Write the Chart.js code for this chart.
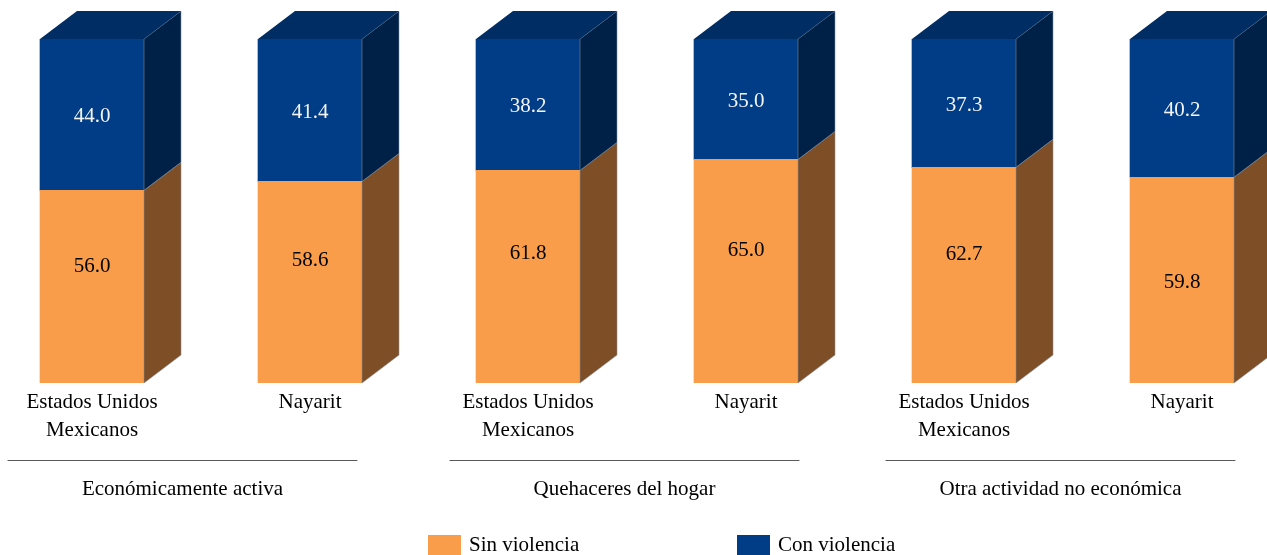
<!DOCTYPE html>
<html lang="es">
<head>
<meta charset="utf-8">
<script src="https://cdn.jsdelivr.net/npm/chart.js@4.4.1/dist/chart.umd.min.js"></script>
<style>
  html, body { margin: 0; padding: 0; background: #fff; overflow: hidden; width: 1267px; height: 555px; }
  /* canvas is a bit wider than the window: the source picture is cropped on both sides */
  #wrap { position: absolute; left: -17px; top: 0; width: 1308px; height: 555px; }
</style>
</head>
<body>
<div id="wrap"><canvas id="chart"></canvas></div>
<script>
// --- data ---
const categories = [
    ['Estados Unidos', 'Mexicanos'], 'Nayarit',
    ['Estados Unidos', 'Mexicanos'], 'Nayarit',
    ['Estados Unidos', 'Mexicanos'], 'Nayarit'
];
const groupLabels = ['Económicamente activa', 'Quehaceres del hogar', 'Otra actividad no económica'];
const sinViolencia = [56.0, 58.6, 61.8, 65.0, 62.7, 59.8];
const conViolencia = [44.0, 41.4, 38.2, 35.0, 37.3, 40.2];

// --- look ---
const FONT = '"Liberation Serif", "Times New Roman", serif';
const colors = {
    sin: { front: '#FA9D4A', side: '#7E4F26' },
    con: { front: '#003D86', side: '#002147', top: '#002D63' }
};
const depth = { dx: 37, dy: 28 };
// the orange labels in the original sit a little above the segment centre
const sinLabelRaise = [22, 24, 25, 23, 23, 0];

// side + top faces so the bars look like boxes
const boxPlugin = {
    id: 'box3d',
    afterDatasetsDraw(chart) {
        const ctx = chart.ctx;
        const last = chart.data.datasets.length - 1;
        chart.data.datasets.forEach((ds, di) => {
            const meta = chart.getDatasetMeta(di);
            meta.data.forEach((bar) => {
                const { x, y, base, width } = bar.getProps(['x', 'y', 'base', 'width'], true);
                const l = x - width / 2, r = x + width / 2;
                ctx.save();
                ctx.beginPath();
                ctx.moveTo(r, base);
                ctx.lineTo(r + depth.dx, base - depth.dy);
                ctx.lineTo(r + depth.dx, y - depth.dy);
                ctx.lineTo(r, y);
                ctx.closePath();
                ctx.fillStyle = ds.sideColor;
                ctx.fill();
                ctx.strokeStyle = 'rgba(130,140,155,0.7)';
                ctx.lineWidth = 0.8;
                ctx.stroke();
                if (di === last) {
                    ctx.beginPath();
                    ctx.moveTo(l, y);
                    ctx.lineTo(l + depth.dx, y - depth.dy);
                    ctx.lineTo(r + depth.dx, y - depth.dy);
                    ctx.lineTo(r, y);
                    ctx.closePath();
                    ctx.fillStyle = ds.topColor;
                    ctx.fill();
                }
                ctx.restore();
            });
        });
    }
};

// value labels, group lines, group names and legend
const annotatePlugin = {
    id: 'annotate',
    afterDraw(chart) {
        const ctx = chart.ctx;
        ctx.save();
        ctx.font = '21px ' + FONT;
        ctx.textAlign = 'center';
        ctx.textBaseline = 'middle';

        chart.data.datasets.forEach((ds, di) => {
            const meta = chart.getDatasetMeta(di);
            meta.data.forEach((bar, i) => {
                const { x, y, base } = bar.getProps(['x', 'y', 'base'], true);
                let cy = (y + base) / 2 + 2;
                if (di === 0) cy -= sinLabelRaise[i];
                ctx.fillStyle = ds.labelColor;
                ctx.fillText(ds.data[i].toFixed(1), x, cy);
            });
        });

        // group separators under the category labels
        const xs = chart.scales.x;
        const w = xs.getPixelForValue(1) - xs.getPixelForValue(0);
        groupLabels.forEach((g, gi) => {
            const a = xs.getPixelForValue(gi * 2);
            const b = xs.getPixelForValue(gi * 2 + 1);
            const shift = gi === 0 ? -6 : 0;
            const x0 = a - 0.36 * w + shift, x1 = b + 0.245 * w + shift;
            ctx.beginPath();
            ctx.moveTo(x0, 460.5);
            ctx.lineTo(x1, 460.5);
            ctx.strokeStyle = '#5a5a5a';
            ctx.lineWidth = 1;
            ctx.stroke();
            ctx.fillStyle = '#000';
            ctx.fillText(g, (x0 + x1) / 2, 489);
        });

        // legend
        ctx.textAlign = 'left';
        const items = [
            { x: 445, ds: chart.data.datasets[0] },
            { x: 754, ds: chart.data.datasets[1] }
        ];
        items.forEach(it => {
            ctx.fillStyle = it.ds.backgroundColor;
            ctx.fillRect(it.x, 535, 33, 22);
            ctx.fillStyle = '#000';
            ctx.fillText(it.ds.label, it.x + 41, 545);
        });
        ctx.restore();
    }
};

new Chart(document.getElementById('chart'), {
    type: 'bar',
    data: {
        labels: categories,
        datasets: [
            {
                label: 'Sin violencia',
                data: sinViolencia,
                backgroundColor: colors.sin.front,
                sideColor: colors.sin.side,
                labelColor: '#000',
                barThickness: 104
            },
            {
                label: 'Con violencia',
                data: conViolencia,
                backgroundColor: colors.con.front,
                sideColor: colors.con.side,
                topColor: colors.con.top,
                labelColor: '#f4f4f4',
                barThickness: 104
            }
        ]
    },
    options: {
        responsive: true,
        maintainAspectRatio: false,
        animation: false,
        layout: { padding: { top: 39, left: 0, right: 0, bottom: 0 } },
        plugins: {
            legend: { display: false },
            tooltip: { enabled: false }
        },
        scales: {
            x: {
                stacked: true,
                grid: { display: false, drawTicks: false },
                border: { display: false },
                ticks: {
                    color: '#000',
                    padding: 5,
                    autoSkip: false,
                    maxRotation: 0,
                    font: { family: FONT, size: 21, lineHeight: 28 / 21 }
                },
                afterFit: (s) => { s.height = 172; }
            },
            y: {
                stacked: true,
                display: false,
                min: 0,
                max: 100
            }
        }
    },
    plugins: [boxPlugin, annotatePlugin]
});
</script>
</body>
</html>
